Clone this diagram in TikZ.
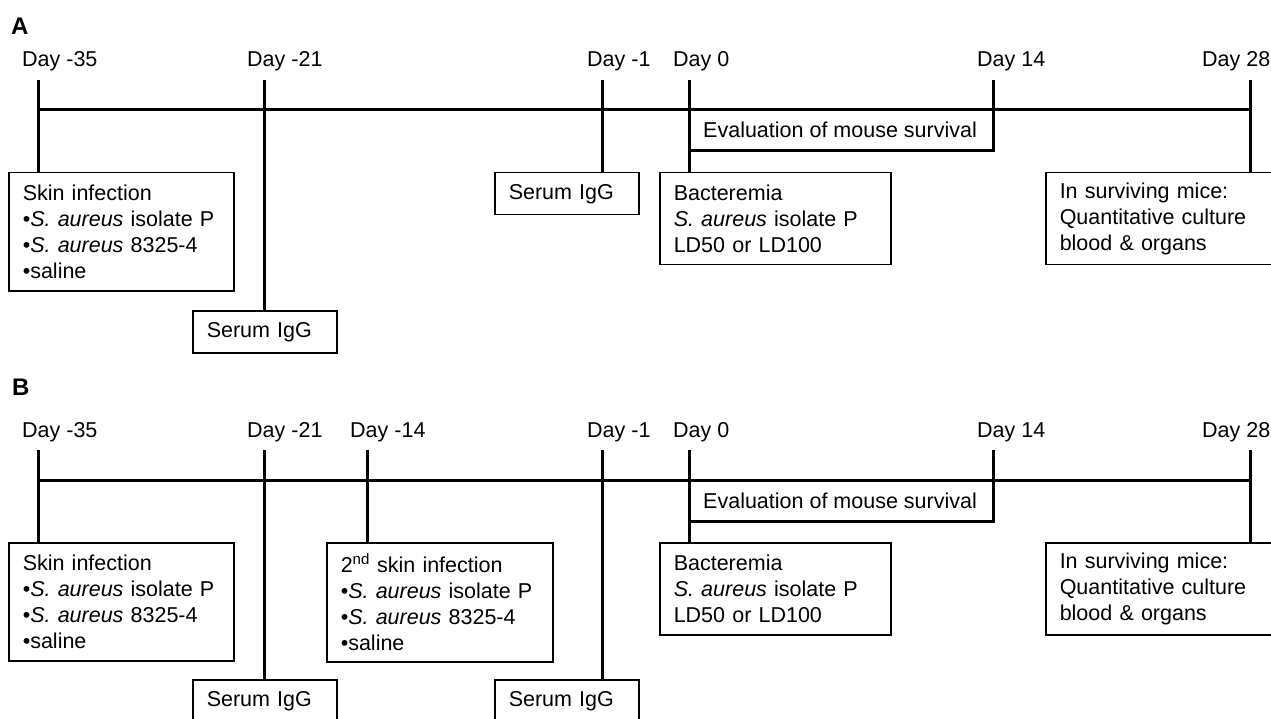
\documentclass[tikz,border=0pt]{standalone}
\usepackage{fontspec}
\setmainfont{Liberation Sans}
\usetikzlibrary{positioning}

\begin{document}
\begin{tikzpicture}[x=1pt,y=-1pt]
        \tikzstyle{every node}+=[inner sep=0pt,font=\fontsize{21.5}{26}\selectfont]
        \tikzstyle{axis}=[line width=3pt]
        \tikzstyle{stepbox}=[draw,line width=1.5pt,anchor=north west,align=left,inner xsep=14pt]
        \tikzstyle{daylabel}=[anchor=base west]
        \tikzstyle{panel}=[anchor=base west,font=\fontsize{24}{28}\selectfont\bfseries]
        \useasboundingbox (0,0) rectangle (1271,719);
        % panel A
        \node [panel] (labA) at (11,35) {A};
        \node [daylabel] (dAm35) at (22,67) {Day -35};
        \node [daylabel] (dAm21) at (247,67) {Day -21};
        \node [daylabel] (dAm1) at (587,67) {Day -1};
        \node [daylabel] (dA0) at (673,67) {Day 0};
        \node [daylabel] (dA14) at (977,67) {Day 14};
        \node [daylabel] (dA28) at (1202,67) {Day 28};
        \coordinate (tAm35) at (38,80);
        \coordinate (tAm21) at (264,80);
        \coordinate (tAm1) at (602,80);
        \coordinate (tA0) at (689,80);
        \coordinate (tA14) at (993,80);
        \coordinate (tA28) at (1250,80);
        \coordinate (lineA) at (0,110);
        \coordinate (evalA) at (0,151);
        \node [stepbox,text width=197pt,minimum height=118pt] (skinA) at (8,172) {Skin infection\\\textbullet\textit{S. aureus} isolate P\\\textbullet\textit{S. aureus} 8325-4\\\textbullet saline};
        \node [stepbox,text width=116pt,minimum height=42pt] (serumAm21) at (192,310) {Serum IgG};
        \node [stepbox,text width=116pt,minimum height=42pt] (serumAm1) at (494,172) {Serum IgG};
        \node [stepbox,text width=203pt,minimum height=92pt] (bactA) at (659,172) {Bacteremia\\\textit{S. aureus} isolate P\\LD50 or LD100};
        \node [stepbox,text width=198pt,minimum height=92pt] (survA) at (1045,172) {In surviving mice:\\Quantitative culture\\blood \& organs};
        \node [daylabel] (evalTxtA) at (703,138) {Evaluation of mouse survival};
        \draw [axis] (tAm35 |- lineA) -- (tA28 |- lineA);
        \draw [axis] (tAm35) -- (tAm35 |- skinA.north);
        \draw [axis] (tAm21) -- (tAm21 |- serumAm21.north);
        \draw [axis] (tAm1) -- (tAm1 |- serumAm1.north);
        \draw [axis] (tA0) -- (tA0 |- bactA.north);
        \draw [axis] (tA14) -- (tA14 |- evalA) -- (tA0 |- evalA);
        \draw [axis] (tA28) -- (tA28 |- survA.north);
        % panel B
        \node [panel] (labB) at (12,395) {B};
        \node [daylabel] (dBm35) at (22,437) {Day -35};
        \node [daylabel] (dBm21) at (247,437) {Day -21};
        \node [daylabel] (dBm14) at (350,437) {Day -14};
        \node [daylabel] (dBm1) at (587,437) {Day -1};
        \node [daylabel] (dB0) at (673,437) {Day 0};
        \node [daylabel] (dB14) at (977,437) {Day 14};
        \node [daylabel] (dB28) at (1202,437) {Day 28};
        \coordinate (tBm35) at (38,450);
        \coordinate (tBm21) at (264,450);
        \coordinate (tBm14) at (367,450);
        \coordinate (tBm1) at (602,450);
        \coordinate (tB0) at (689,450);
        \coordinate (tB14) at (993,450);
        \coordinate (tB28) at (1250,450);
        \coordinate (lineB) at (0,480);
        \coordinate (evalB) at (0,521);
        \node [stepbox,text width=197pt,minimum height=118pt] (skinB) at (8,542) {Skin infection\\\textbullet\textit{S. aureus} isolate P\\\textbullet\textit{S. aureus} 8325-4\\\textbullet saline};
        \node [stepbox,text width=198pt,minimum height=119pt] (skin2B) at (326,542) {2\textsuperscript{nd} skin infection\\\textbullet\textit{S. aureus} isolate P\\\textbullet\textit{S. aureus} 8325-4\\\textbullet saline};
        \node [stepbox,text width=116pt,minimum height=42pt] (serumBm21) at (192,679) {Serum IgG};
        \node [stepbox,text width=116pt,minimum height=42pt] (serumBm1) at (494,679) {Serum IgG};
        \node [stepbox,text width=203pt,minimum height=92pt] (bactB) at (659,542) {Bacteremia\\\textit{S. aureus} isolate P\\LD50 or LD100};
        \node [stepbox,text width=198pt,minimum height=92pt] (survB) at (1045,542) {In surviving mice:\\Quantitative culture\\blood \& organs};
        \node [daylabel] (evalTxtB) at (703,508) {Evaluation of mouse survival};
        \draw [axis] (tBm35 |- lineB) -- (tB28 |- lineB);
        \draw [axis] (tBm35) -- (tBm35 |- skinB.north);
        \draw [axis] (tBm21) -- (tBm21 |- serumBm21.north);
        \draw [axis] (tBm14) -- (tBm14 |- skin2B.north);
        \draw [axis] (tBm1) -- (tBm1 |- serumBm1.north);
        \draw [axis] (tB0) -- (tB0 |- bactB.north);
        \draw [axis] (tB14) -- (tB14 |- evalB) -- (tB0 |- evalB);
        \draw [axis] (tB28) -- (tB28 |- survB.north);
\end{tikzpicture}
\end{document}
